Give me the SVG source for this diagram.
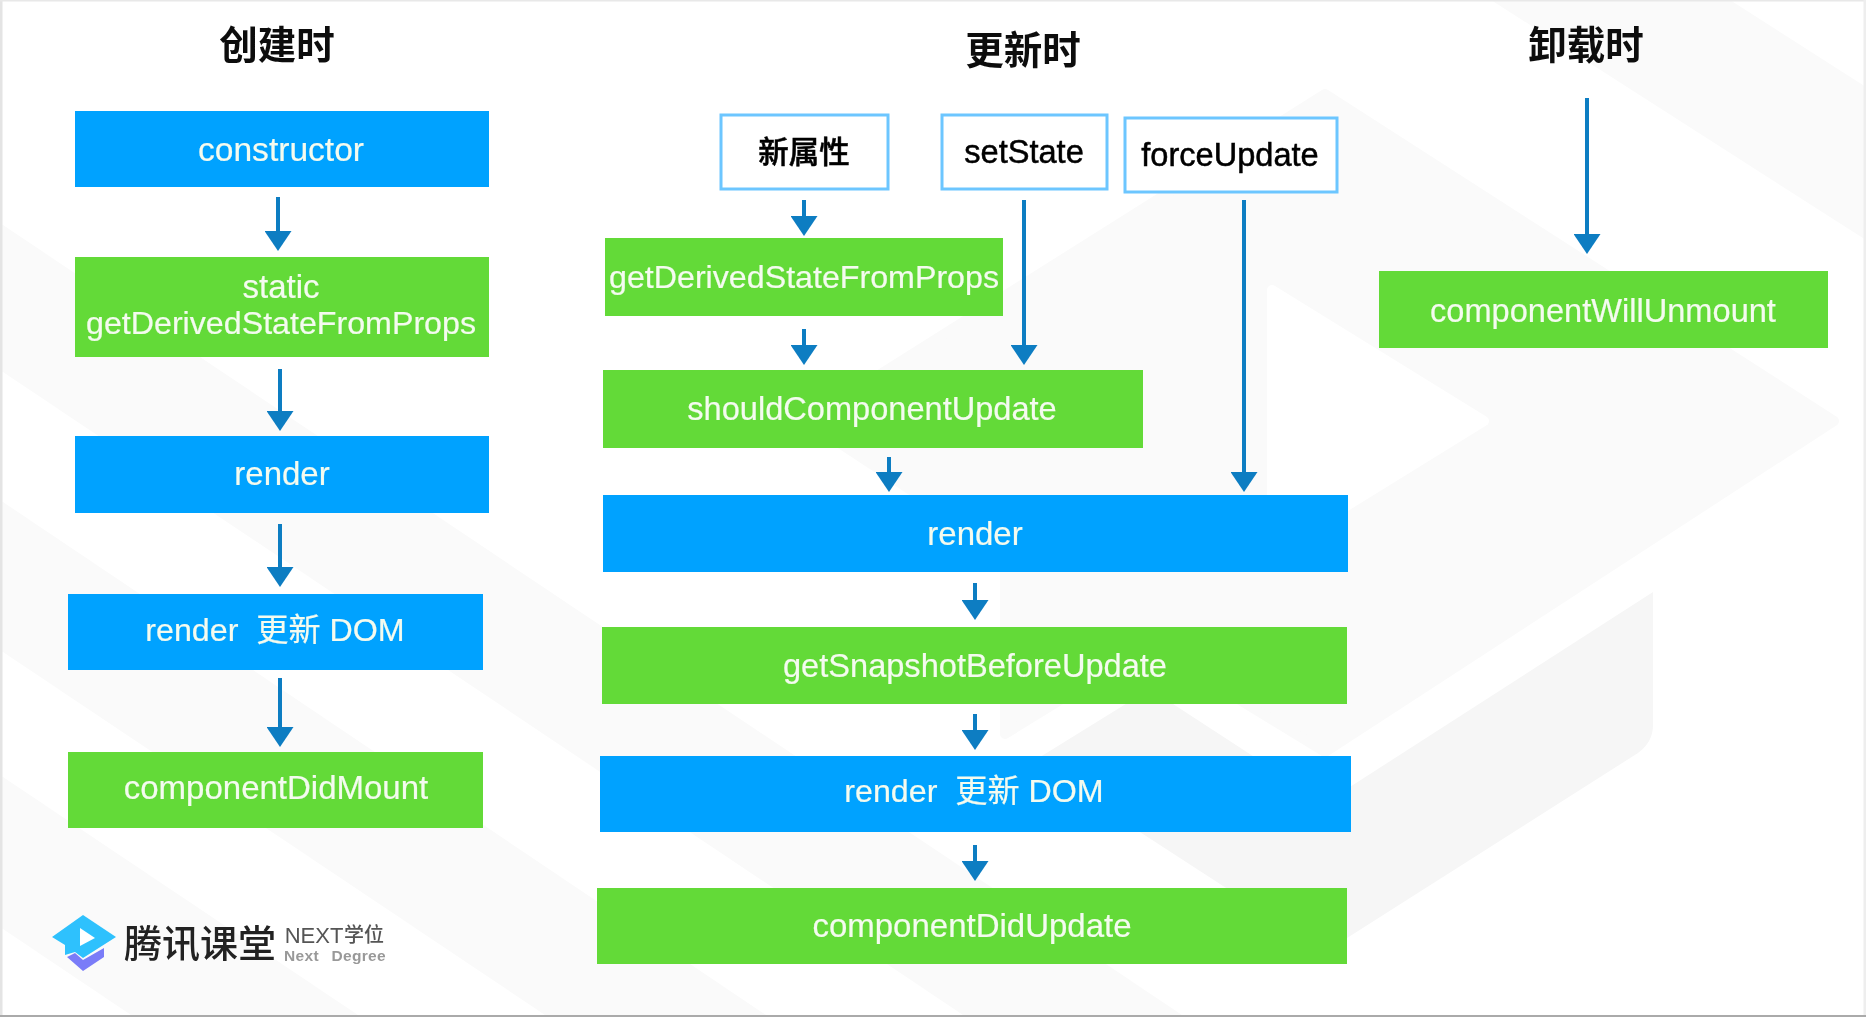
<svg xmlns="http://www.w3.org/2000/svg" width="1866" height="1017" viewBox="0 0 1866 1017">
<style>
.blue{fill:#00a2ff}
.green{fill:#63da38}
.src{fill:#fff;stroke:#6cc6ff;stroke-width:3}
text{font-family:"Liberation Sans","Noto Sans CJK SC",sans-serif;font-size:33px;text-anchor:middle;white-space:pre}
.w{fill:#f4fbef;stroke:#f4fbef;stroke-width:.2}
.k{fill:#000;stroke:#000;stroke-width:.5;font-size:32.6px}
.cjk{font-size:30.5px;font-weight:500}
.s1{font-size:32.2px}
.s2{font-size:32.6px}
.s3{font-size:33.6px}
.title{font-family:"Noto Sans CJK SC",sans-serif;font-size:38.5px;font-weight:700;fill:#111}
.wm{fill:#fafafa}
.wm2{fill:#f6f6f6}
.conn line{stroke:#0f7dc2;stroke-width:4;marker-end:url(#head)}
</style>
<defs>
<marker id="head" markerUnits="userSpaceOnUse" markerWidth="20" markerHeight="27" refX="0" refY="13.5" orient="auto" viewBox="0 0 20 27">
<path d="M0,0 L20,13.5 L0,27 Z" fill="#0f7dc2"/>
</marker>
<filter id="soft" x="0" y="0" width="1" height="1"><feGaussianBlur stdDeviation="0.7"/></filter>
</defs>
<rect width="1866" height="1017" fill="#fff"/>
<g id="watermark">
<polygon class="wm" points="0,223 1185,1017 966,1017 0,370"/>
<polygon class="wm" points="0,500 769,1017 548,1017 0,650"/>
<polygon class="wm" points="0,775 361,1017 134,1017 0,927"/>
<polygon class="wm" points="1491,0 1730,0 1866,87 1866,240"/>
<path class="wm" d="M1325,94 L1834,421 L1325,752 L1150,645 L1005,734 L1005,552 L806,421 Z" stroke="#fafafa" stroke-width="10" stroke-linejoin="round"/>
<path d="M1272,290 L1484,421 L1272,552 Z" fill="#fff" stroke="#fff" stroke-width="10" stroke-linejoin="round"/>
<path class="wm2" d="M1653,592 L1653,725 Q1653,742 1638,753 L1325,952 L1032,762 L1150,689 L1325,803 Z"/>
</g>
<g filter="url(#soft)">
<g class="conn" id="connectors">
<line x1="278" y1="197" x2="278" y2="231"/>
<line x1="280" y1="369" x2="280" y2="411"/>
<line x1="280" y1="524" x2="280" y2="567"/>
<line x1="280" y1="678" x2="280" y2="727"/>
<line x1="804" y1="200" x2="804" y2="216"/>
<line x1="804" y1="329" x2="804" y2="345"/>
<line x1="1024" y1="200" x2="1024" y2="345"/>
<line x1="889" y1="457" x2="889" y2="472"/>
<line x1="1244" y1="200" x2="1244" y2="472"/>
<line x1="975" y1="583" x2="975" y2="600"/>
<line x1="975" y1="714" x2="975" y2="730"/>
<line x1="975" y1="845" x2="975" y2="861"/>
<line x1="1587" y1="98" x2="1587" y2="234"/>
</g>
<g id="title-create"><text class="title" x="277" y="59">创建时</text></g>
<g id="title-update"><text class="title" x="1023" y="64">更新时</text></g>
<g id="title-unmount"><text class="title" x="1586" y="59">卸载时</text></g>
<g id="constructor"><rect class="blue" x="75" y="111" width="414" height="76"/><text class="w s3" x="281" y="161">constructor</text></g>
<g id="static-gdsfp"><rect class="green" x="75" y="257" width="414" height="100"/><text class="w" x="281" y="298">static</text><text class="w s1" x="281" y="334">getDerivedStateFromProps</text></g>
<g id="render-create"><rect class="blue" x="75" y="436" width="414" height="77"/><text class="w" x="282" y="485">render</text></g>
<g id="render-dom-create"><rect class="blue" x="68" y="594" width="415" height="76"/><text class="w s1" x="275" y="641">render  更新 DOM</text></g>
<g id="did-mount"><rect class="green" x="68" y="752" width="415" height="76"/><text class="w" x="276" y="799">componentDidMount</text></g>
<g id="new-props"><rect class="src" x="721" y="115" width="167" height="74"/><text class="k cjk" x="804" y="163">新属性</text></g>
<g id="set-state"><rect class="src" x="942" y="115" width="165" height="74"/><text class="k" x="1024" y="163">setState</text></g>
<g id="force-update"><rect class="src" x="1125" y="118" width="212" height="74"/><text class="k" x="1230" y="166">forceUpdate</text></g>
<g id="gdsfp"><rect class="green" x="605" y="238" width="398" height="78"/><text class="w s1" x="804" y="288">getDerivedStateFromProps</text></g>
<g id="should-update"><rect class="green" x="603" y="370" width="540" height="78"/><text class="w s2" x="872" y="420">shouldComponentUpdate</text></g>
<g id="render-update"><rect class="blue" x="603" y="495" width="745" height="77"/><text class="w" x="975" y="545">render</text></g>
<g id="snapshot"><rect class="green" x="602" y="627" width="745" height="77"/><text class="w s2" x="975" y="677">getSnapshotBeforeUpdate</text></g>
<g id="render-dom-update"><rect class="blue" x="600" y="756" width="751" height="76"/><text class="w s1" x="974" y="802">render  更新 DOM</text></g>
<g id="did-update"><rect class="green" x="597" y="888" width="750" height="76"/><text class="w" x="972" y="937">componentDidUpdate</text></g>
<g id="will-unmount"><rect class="green" x="1379" y="271" width="449" height="77"/><text class="w s2" x="1603" y="322">componentWillUnmount</text></g>
<g id="logo">
<polygon fill="#7a7cf8" points="67,957 83,971 104,957 104,948 83,960 75,953"/>
<polygon fill="#2ec1fd" points="52,937 83,915 116,937 83,958 75,952 65,955 65,945"/>
<polygon fill="#fff" points="80,928 95,938 80,946"/>
<text x="200" y="957" style="font-family:'Noto Sans CJK SC',sans-serif;font-size:38px;font-weight:500;fill:#222">腾讯课堂</text>
<text x="314" y="943" style="font-size:22px;fill:#555">NEXT</text>
<text x="364" y="942" style="font-family:'Noto Sans CJK SC',sans-serif;font-size:20px;font-weight:500;fill:#555">学位</text>
<text x="335" y="961" style="font-size:15.5px;font-weight:700;fill:#999;word-spacing:8px;letter-spacing:.3px">Next Degree</text>
</g>
</g>
<g id="frame">
<rect x="0" y="0" width="2.5" height="1017" fill="#e4e4e4"/>
<rect x="0" y="0" width="1866" height="1.5" fill="#e8e8e8"/>
<rect x="1863.5" y="0" width="2.5" height="1017" fill="#eee"/>
<rect x="0" y="1015" width="1866" height="2" fill="#aaa"/>
</g>
</svg>
